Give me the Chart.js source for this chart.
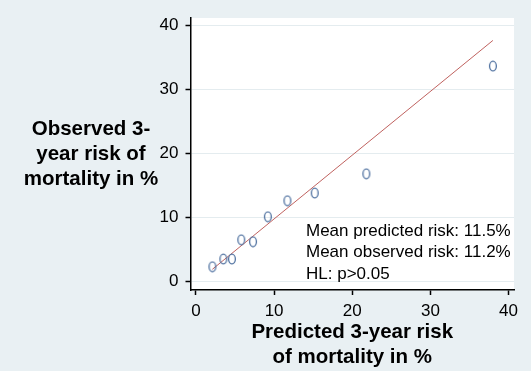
<!DOCTYPE html>
<html>
<head>
<meta charset="utf-8">
<script src="https://cdn.jsdelivr.net/npm/chart.js@4/dist/chart.umd.min.js"></script>
<style>
  html, body { margin: 0; padding: 0; background: #e9f0f3; }
  #wrap { width: 531px; height: 371px; }
</style>
</head>
<body>
<div id="wrap"><canvas id="c" width="531" height="371"></canvas></div>
<script>
// Calibration: predicted vs observed 3-year mortality by risk group
const predicted = [2.1, 3.5, 4.6, 5.8, 7.3, 9.2, 11.7, 15.2, 21.8, 38.0];
const observed  = [2.3, 3.5, 3.5, 6.5, 6.2, 10.1, 12.6, 13.8, 16.8, 33.6];
const fitX = [2.1, 38.0];
const fitY = [1.9, 37.6];
const axisTicks = [0, 10, 20, 30, 40];
const yTitle = ['Observed 3-', 'year risk of', 'mortality in %'];
const xTitle = ['Predicted 3-year risk', 'of mortality in %'];
const notes = ['Mean predicted risk: 11.5%', 'Mean observed risk: 11.2%', 'HL: p>0.05'];

const FONT = '"Liberation Sans", Arial, sans-serif';
const BG = '#e9f0f3';

// hollow oval marker
function ovalMarker() {
  const m = document.createElement('canvas');
  m.width = 10; m.height = 12;
  const g = m.getContext('2d');
  g.strokeStyle = '#4f71a0';
  g.lineWidth = 1.3;
  g.beginPath();
  g.ellipse(5, 6, 3.4, 4.8, 0, 0, Math.PI * 2);
  g.stroke();
  return m;
}

const panel = {
  id: 'panel',
  beforeDraw(chart) {
    const { ctx, chartArea: a } = chart;
    ctx.save();
    ctx.fillStyle = BG;
    ctx.fillRect(0, 0, chart.width, chart.height);
    ctx.fillStyle = '#ffffff';
    ctx.fillRect(a.left, a.top, a.right - a.left, a.bottom - a.top);
    ctx.restore();
  },
  afterDraw(chart) {
    const { ctx } = chart;
    ctx.save();
    ctx.fillStyle = '#000000';
    ctx.textBaseline = 'middle';
    ctx.textAlign = 'center';
    ctx.font = 'bold 20.5px ' + FONT;
    yTitle.forEach((t, i) => ctx.fillText(t, 91, 129 + i * 25));
    ctx.textAlign = 'left';
    ctx.font = '17px ' + FONT;
    notes.forEach((t, i) => ctx.fillText(t, 306, 231 + i * 21.5));
    ctx.restore();
  }
};

new Chart(document.getElementById('c'), {
  type: 'scatter',
  data: {
    datasets: [
      {
        type: 'line',
        data: fitX.map((x, i) => ({ x, y: fitY[i] })),
        borderColor: '#c0625f',
        borderWidth: 1,
        pointRadius: 0,
        fill: false,
        order: 2
      },
      {
        data: predicted.map((x, i) => ({ x, y: observed[i] })),
        pointStyle: ovalMarker(),
        pointRadius: 5,
        order: 1
      }
    ]
  },
  options: {
    responsive: false,
    animation: false,
    devicePixelRatio: 1,
    layout: { padding: { top: 18, right: 17, left: 0, bottom: 0 } },
    plugins: { legend: { display: false }, tooltip: { enabled: false } },
    scales: {
      x: {
        type: 'linear',
        min: -0.7,
        max: 40.7,
        afterBuildTicks(s) { s.ticks = axisTicks.map(v => ({ value: v })); },
        afterFit(s) { s.height = 81; },
        grid: { drawOnChartArea: false, drawTicks: true, tickLength: 5, tickColor: '#000', tickWidth: 1.5 },
        border: { color: '#000', width: 1.5 },
        ticks: { color: '#000', padding: 6, font: { family: FONT, size: 17 } },
        title: {
          display: true,
          text: xTitle,
          color: '#000',
          padding: { top: 0, bottom: 1.5 },
          font: { family: FONT, size: 20.5, weight: 'bold', lineHeight: 25 / 20.5 }
        }
      },
      y: {
        type: 'linear',
        min: -1.33,
        max: 41.1,
        afterBuildTicks(s) { s.ticks = axisTicks.map(v => ({ value: v })); },
        afterFit(s) { s.width = 190.5; },
        grid: { color: '#e4ecef', lineWidth: 1, drawTicks: true, tickLength: 5, tickColor: '#000', tickWidth: 1.5 },
        border: { color: '#000', width: 1.5 },
        ticks: { color: '#000', padding: 7, font: { family: FONT, size: 17 } }
      }
    }
  },
  plugins: [panel]
});
</script>
</body>
</html>
